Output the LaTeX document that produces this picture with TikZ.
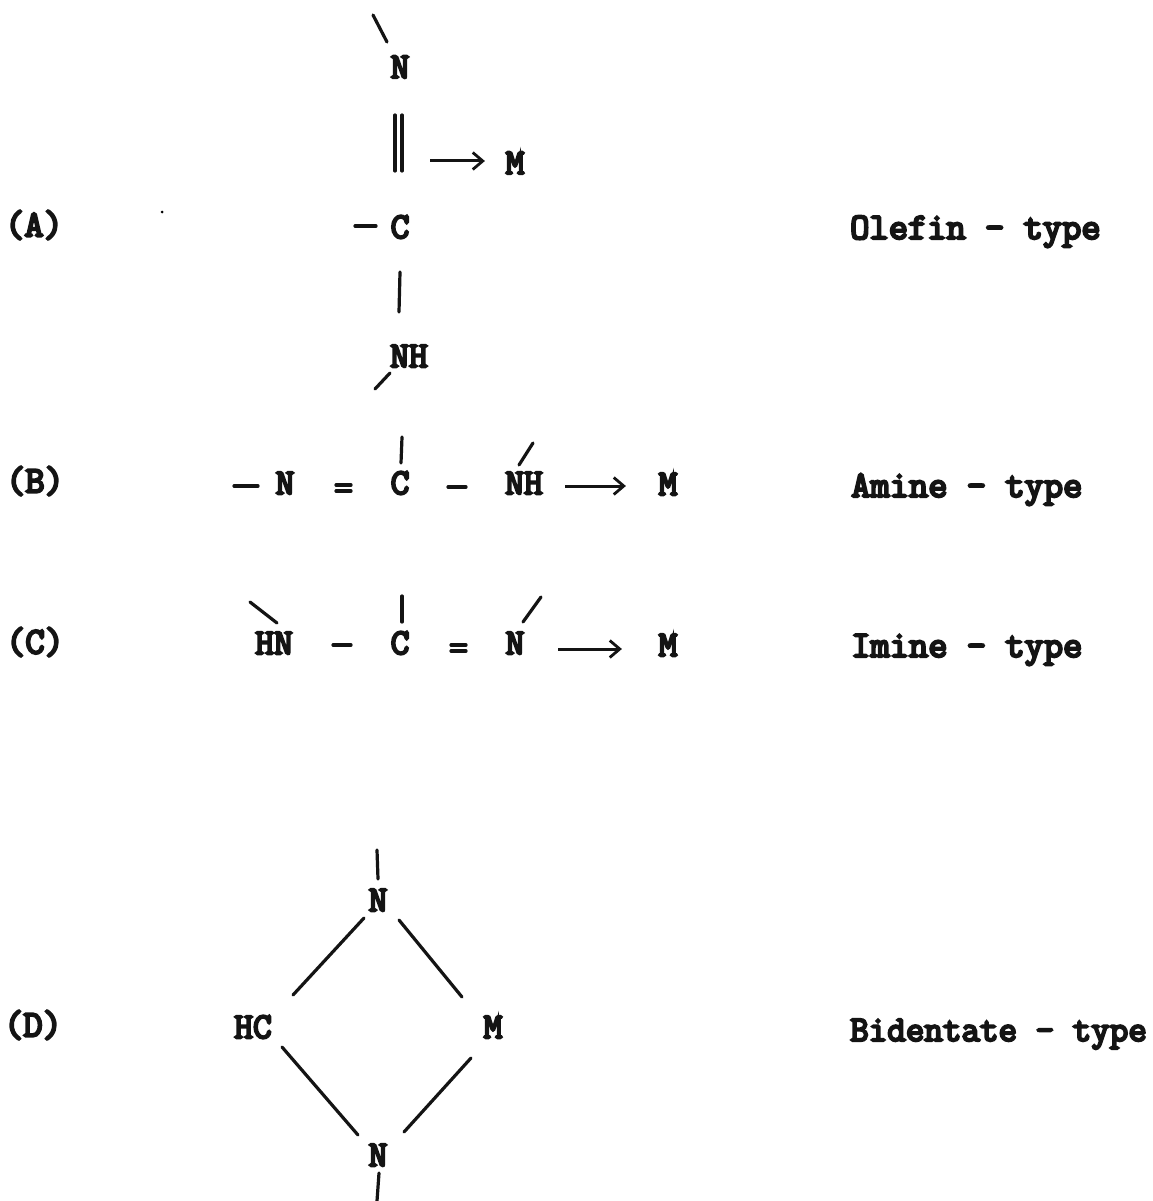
\documentclass[tikz,border=0pt]{standalone}
\usetikzlibrary{arrows.meta}
\font\atomfont="Latin Modern Mono:embolden=6" at 36.5pt
\font\labfont="Latin Modern Mono:embolden=6" at 37.4pt
\font\labtfont="Latin Modern Mono:embolden=6" at 36pt
\font\tagfont="Latin Modern Mono:embolden=6" at 37.5pt
\tikzset{
 atom/.style={inner sep=1pt,font=\atomfont,text=black!92},
 lab/.style={inner sep=0pt,anchor=base west,font=\labfont,text=black!92},
 labt/.style={inner sep=0pt,anchor=base west,font=\labtfont,text=black!92},
 tag/.style={inner sep=0pt,font=\tagfont,text=black!92},
 bond/.style={line width=3.2pt,black!92,line cap=round},
 dative/.style={line width=3pt,black!92,-{Straight Barb[length=10pt,width=17pt,line width=2.8pt]}}
}
\begin{document}
\begin{tikzpicture}[x=1pt,y=-1pt]
\useasboundingbox[fill=white] (0,0) rectangle (1152,1201);
% A
\node[tag] (ta) at (34,225) {(A)};
\node[atom] (a1) at (400,67) {N};
\node[atom] (a2) at (400,227) {C};
\node[atom] (a3) at (409,356) {NH};
\node[atom] (am) at (515,163) {M};
\coordinate (a0) at (373,15); \coordinate (a0e) at (387,42);
\draw[bond] (a0) -- (a0e);
\coordinate (adb1) at (395,115); \coordinate (adb2) at (395,171); \draw[bond] (adb1) -- (adb2);
\coordinate (adb3) at (402,115); \coordinate (adb4) at (402,171); \draw[bond] (adb3) -- (adb4);
\coordinate (ad) at (430,161); \draw[dative,shorten >=19.5pt] (ad) -- (am.west |- ad);
\coordinate (al) at (355,226); \coordinate (al2) at (376,226); \draw[bond] (al) -- (al2);
\coordinate (av) at (400,272); \coordinate (av2) at (399,312); \draw[bond] (av) -- (av2);
\coordinate (an) at (375,389); \coordinate (an2) at (390,373); \draw[bond] (an) -- (an2);
\node[lab] (la) at (850,239) {Olefin - type};
\coordinate (sp) at (162,212); \fill (sp) circle (1.5pt);
% B
\node[tag] (tb) at (35,481) {(B)};
\node[atom] (b1) at (285,483) {N};
\node[atom] (b2) at (400,483) {C};
\node[atom] (b3) at (524,483) {NH};
\node[atom] (bm) at (668,484) {M};
\coordinate (bl) at (234,486); \coordinate (bl2) at (258,486); \draw[bond] (bl) -- (bl2);
\coordinate (be1) at (336,485); \coordinate (be2) at (351,485); \draw[bond] (be1) -- (be2);
\coordinate (be3) at (336,491); \coordinate (be4) at (351,491); \draw[bond] (be3) -- (be4);
\coordinate (bm1) at (448,487); \coordinate (bm2) at (466,487); \draw[bond] (bm1) -- (bm2);
\coordinate (bv) at (402,437); \coordinate (bv2) at (401,463); \draw[bond] (bv) -- (bv2);
\coordinate (bs) at (533,443); \coordinate (bs2) at (519,465); \draw[bond] (bs) -- (bs2);
\coordinate (bd) at (565,486); \draw[dative,shorten >=31.5pt] (bd) -- (bm.west |- bd);
\node[lab] (lb) at (851,497) {Amine - type};
% C
\node[tag] (tc) at (35,642) {(C)};
\node[atom] (c1) at (274,643) {HN};
\node[atom] (c2) at (400,643) {C};
\node[atom] (c3) at (515,643) {N};
\node[atom] (cm) at (668,645) {M};
\coordinate (cb) at (250,602); \coordinate (cb2) at (277,623); \draw[bond] (cb) -- (cb2);
\coordinate (cm1) at (333,645); \coordinate (cm2) at (351,645); \draw[bond] (cm1) -- (cm2);
\coordinate (cv) at (402,596); \coordinate (cv2) at (402,622); \draw[bond] (cv) -- (cv2);
\coordinate (ce1) at (451,645); \coordinate (ce2) at (466,645); \draw[bond] (ce1) -- (ce2);
\coordinate (ce3) at (451,651); \coordinate (ce4) at (466,651); \draw[bond] (ce3) -- (ce4);
\coordinate (cs) at (541,597); \coordinate (cs2) at (523,622); \draw[bond] (cs) -- (cs2);
\coordinate (cd) at (558,649); \draw[dative,shorten >=35.5pt] (cd) -- (cm.west |- cd);
\node[lab] (lc) at (851,657) {Imine - type};
% D
\node[tag] (td) at (33,1025) {(D)};
\node[atom] (d1) at (378,900) {N};
\node[atom] (d2) at (253,1027) {HC};
\node[atom] (d3) at (493,1027) {M};
\node[atom] (d4) at (378,1155) {N};
\coordinate (dt) at (377,850); \coordinate (dt2) at (378,879); \draw[bond] (dt) -- (dt2);
\coordinate (du1) at (364,918); \coordinate (du2) at (293,995); \draw[bond] (du1) -- (du2);
\coordinate (du3) at (399,920); \coordinate (du4) at (462,997); \draw[bond] (du3) -- (du4);
\coordinate (dl1) at (282,1047); \coordinate (dl2) at (358,1135); \draw[bond] (dl1) -- (dl2);
\coordinate (dl3) at (471,1058); \coordinate (dl4) at (404,1132); \draw[bond] (dl3) -- (dl4);
\coordinate (db) at (379,1173); \coordinate (db2) at (377,1201); \draw[bond] (db) -- (db2);
\node[labt] (ld) at (850,1041) {Bidentate - type};
\end{tikzpicture}
\end{document}
